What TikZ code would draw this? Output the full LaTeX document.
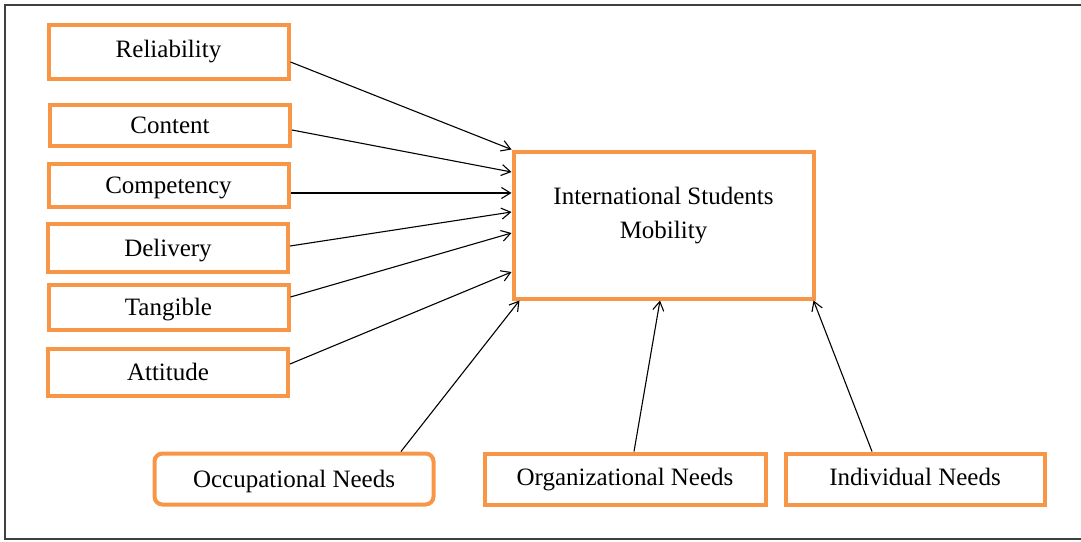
\documentclass[tikz,border=0pt]{standalone}
\usepackage{fontspec}
\setmainfont{Liberation Serif}
\usetikzlibrary{arrows.meta}
\definecolor{boxorange}{HTML}{F79646}
\begin{document}
\begin{tikzpicture}[x=1pt, y=-1pt, >={Straight Barb[length=9pt,width=11pt]},
    factor/.style={draw=boxorange, line width=4pt, minimum width=240pt, inner sep=0pt,
      text height=20pt, text depth=3pt, font=\fontsize{25}{30}\selectfont},
    needbox/.style={factor, minimum height=51pt}]
    \useasboundingbox (0,0) rectangle (1081,541);
    \draw [line width=1.5pt, black!75] (1090,5) -- (5,5) -- (5,539) -- (1090,539);

    % left column
    \node [factor, minimum height=54pt, text depth=8pt] (reli) at (168.5,51.5) {Reliability};
    \node [factor, minimum height=41pt] (cont) at (170,125) {Content};
    \node [factor, minimum height=43pt] (comp) at (168.5,185) {Competency};
    \node [factor, minimum height=48pt] (deli) at (168,247.5) {Delivery};
    \node [factor, minimum height=45pt] (tang) at (168.5,307) {Tangible};
    \node [factor, minimum height=47pt] (atti) at (168,372) {Attitude};

    % target
    \node [factor, minimum width=300pt, minimum height=147pt] (ism) at (663.5,225) {};
    \node [font=\fontsize{25}{34}\selectfont, align=center] (ismtext) at ([yshift=9pt]ism.center)
      {International Students\\Mobility};

    % bottom row
    \node [needbox, minimum width=279pt, rounded corners=8pt] (occ) at (294,479) {Occupational Needs};
    \node [needbox, minimum width=281pt, text depth=8pt] (org) at (625,479) {Organizational Needs};
    \node [needbox, minimum width=259pt, text depth=8pt] (indi) at (915,479) {Individual Needs};

    \draw [line width=1.1pt]
    ([yshift=-10.5pt]reli.east) edge [->] (ism.north west)
    ([yshift=-5pt]cont.east) edge [->] ([yshift=53pt]ism.west)
    ([yshift=-8pt]comp.east) edge [->] ([yshift=32pt]ism.west)
    ([yshift=1.5pt]deli.east) edge [->] ([yshift=13pt]ism.west)
    ([yshift=10pt]tang.east) edge [->] ([yshift=-8pt]ism.west)
    ([yshift=8pt]atti.east) edge [->] ([yshift=-47pt]ism.west)
    ([xshift=107pt]occ.north) edge [->] ([xshift=8pt]ism.south west)
    ([xshift=9pt]org.north) edge [->] ([xshift=-3.5pt]ism.south)
    ([xshift=-43pt]indi.north) edge [->] ([xshift=-2pt]ism.south east);
\end{tikzpicture}
\end{document}
